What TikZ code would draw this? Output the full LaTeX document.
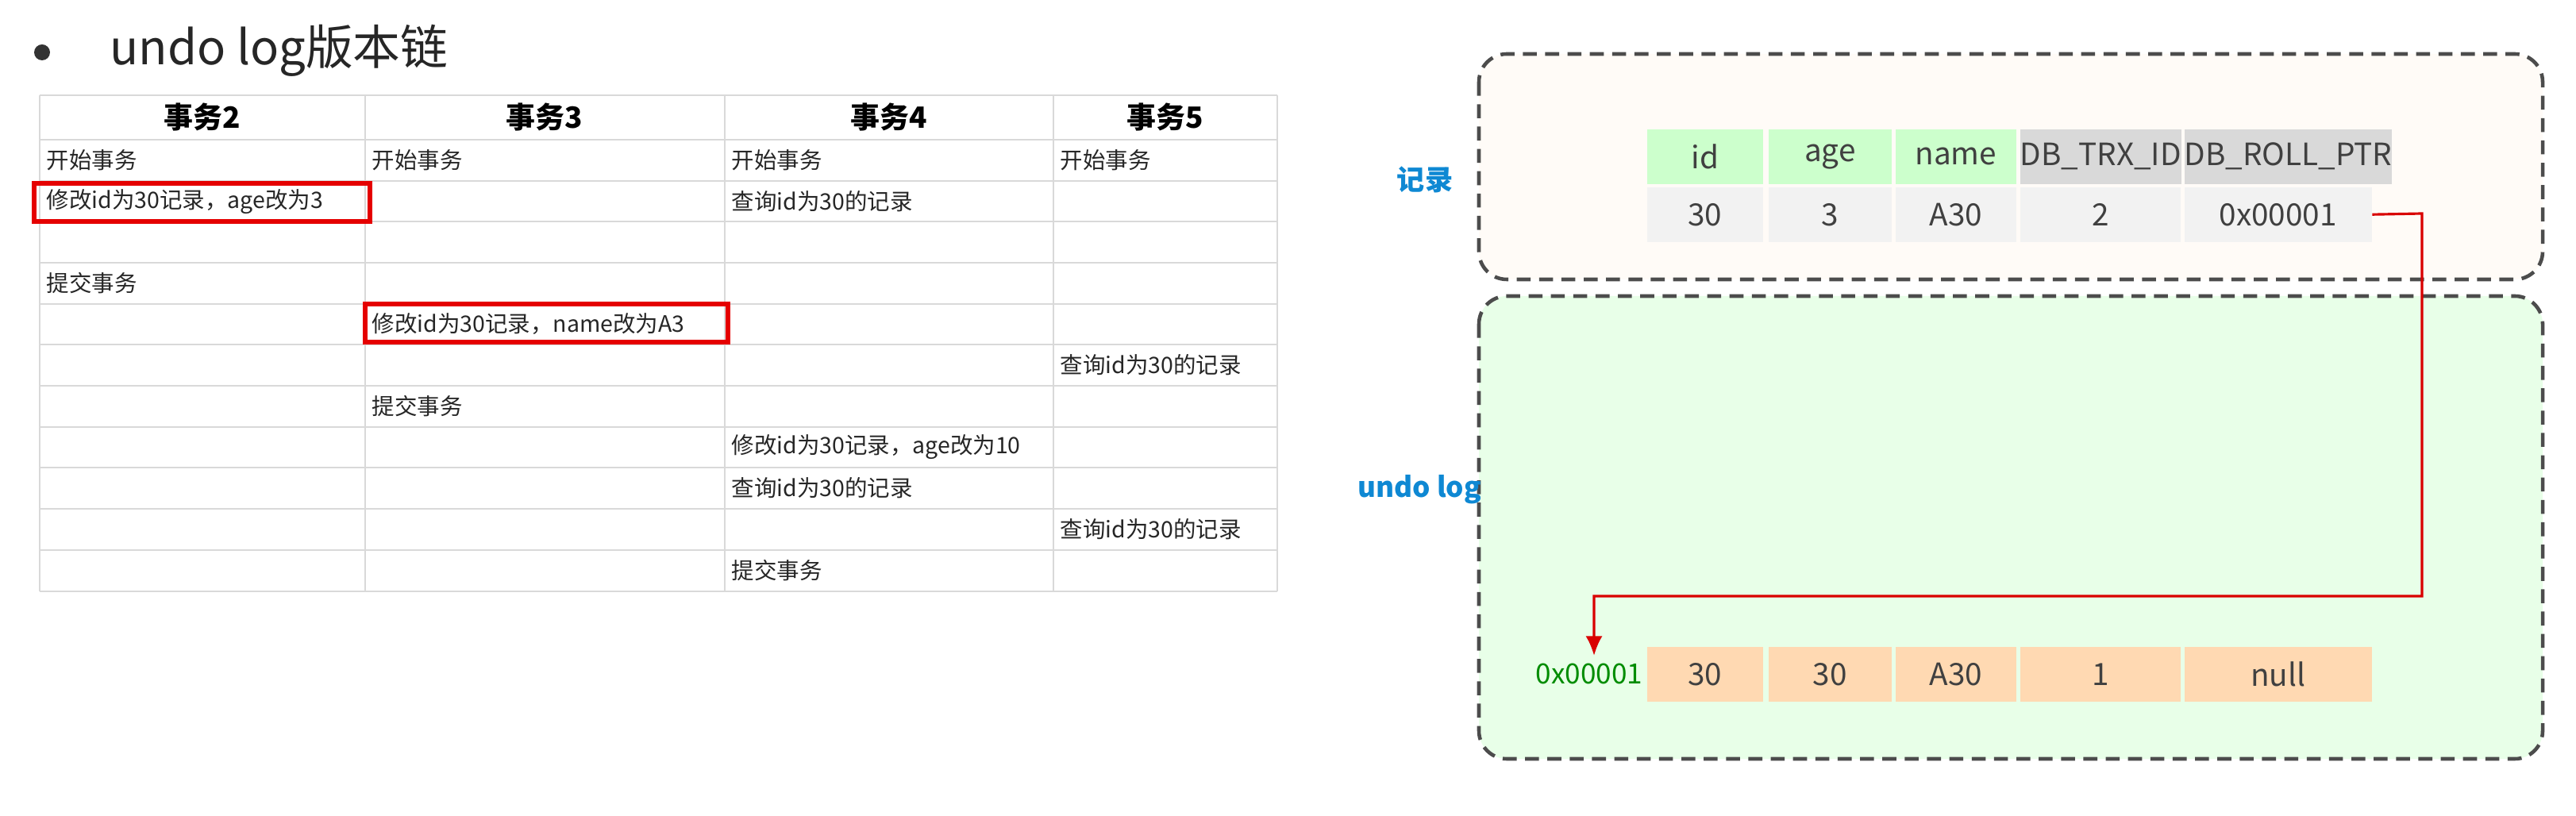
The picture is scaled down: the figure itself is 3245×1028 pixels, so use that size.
\documentclass[tikz,border=0pt]{standalone}
\usepackage{fontspec}
\usetikzlibrary{arrows.meta}
\setmainfont{Noto Sans CJK SC}
\begin{document}
\begin{tikzpicture}[x=0.01cm,y=-0.01cm,
  cell/.style={minimum width=#1*0.01cm, minimum height=0.69cm, anchor=north west, inner sep=0pt, font=\fontsize{11}{13}\selectfont, text=black!75},
  tb/.style={font=\fontsize{8.1}{10}\selectfont, anchor=west, inner sep=0pt, text=black!85},
  hd/.style={font=\bfseries\fontsize{10.5}{12}\selectfont, inner sep=0pt},
  redbox/.style={draw=red!90!black, line width=1.6pt},
  grp/.style={draw=black!70, dash pattern=on 5pt off 3pt, line width=1.3pt, rounded corners=10pt},
  lbl/.style={font=\bfseries\fontsize{10}{12}\selectfont, text=cyan!70!blue}]
\useasboundingbox (0,0) rectangle (3245,1028);
\fill[white] (0,0) rectangle (3245,1028);
% title
\fill[black!80] (53,66) circle (10);
\node[anchor=west, inner sep=0pt, font=\fontsize{17}{19}\selectfont, text=black!85] (title) at (138,64) {undo log版本链};
% table grid
\foreach \yy in {120,176,228,279,331,383,434,486,538,589,641,693,745}{\draw[black!15, line width=0.8pt] (50,\yy) -- (1609,\yy);}
\foreach \xx in {50,460,913,1327,1609}{\draw[black!15, line width=0.8pt] (\xx,120) -- (\xx,745);}
\node[hd] (h2) at (255,148) {事务2};
\node[hd] (h3) at (686,148) {事务3};
\node[hd] (h4) at (1120,148) {事务4};
\node[hd] (h5) at (1468,148) {事务5};
\node[tb] (a1) at (58,202) {开始事务};
\node[tb] (b1) at (468,202) {开始事务};
\node[tb] (c1) at (921,202) {开始事务};
\node[tb] (d1) at (1335,202) {开始事务};
\node[tb] (a2) at (58,254) {修改id为30记录，age改为3};
\node[tb] (c2) at (921,254) {查询id为30的记录};
\node[tb] (a4) at (58,357) {提交事务};
\node[tb] (b5) at (468,408) {修改id为30记录，name改为A3};
\node[tb] (d6) at (1335,460) {查询id为30的记录};
\node[tb] (b7) at (468,512) {提交事务};
\node[tb] (c8) at (921,563) {修改id为30记录，age改为10};
\node[tb] (c9) at (921,615) {查询id为30的记录};
\node[tb] (d10) at (1335,667) {查询id为30的记录};
\node[tb] (c11) at (921,719) {提交事务};
\draw[redbox] (43,231) rectangle (466,279);
\draw[redbox] (460,383) rectangle (917,431);
% right groups
\draw[grp, fill=orange!3] (1863,68) rectangle (3203,352);
\draw[grp, fill=green!9] (1863,373) rectangle (3203,956);
\node[lbl] (rec) at (1795,226) {记录};
\node[lbl] (ul) at (1788,617) {undo log};
% record table
\node[cell=146, fill=green!20] (hid) at (2074,162) {id};
\node[cell=155, fill=green!20] (hage) at (2227,162) {age};
\node[cell=152, fill=green!20] (hname) at (2387,162) {name};
\node[cell=202, fill=black!15] (htrx) at (2544,162) {DB\_TRX\_ID};
\node[cell=236, fill=black!15] (hptr) at (2751,162) {DB\_ROLL\_PTR};
\node[cell=146, fill=black!5] (rid) at (2074,235) {30};
\node[cell=155, fill=black!5] (rage) at (2227,235) {3};
\node[cell=152, fill=black!5] (rname) at (2387,235) {A30};
\node[cell=202, fill=black!5] (rtrx) at (2544,235) {2};
\node[cell=236, fill=black!5] (rptr) at (2751,235) {0x00001};
% undo row
\node[cell=146, fill=orange!30] (uid) at (2074,814) {30};
\node[cell=155, fill=orange!30] (uage) at (2227,814) {30};
\node[cell=152, fill=orange!30] (uname) at (2387,814) {A30};
\node[cell=202, fill=orange!30] (utrx) at (2544,814) {1};
\node[cell=236, fill=orange!30] (uptr) at (2751,814) {null};
\node[font=\fontsize{10}{12}\selectfont, text=green!55!black, inner sep=0pt] (addr) at (2002,849) {0x00001};
\coordinate (k1) at (3051,269);
\coordinate (k2) at (3051,751);
\coordinate (k3) at (2008,751);
\coordinate (k4) at (2008,826);
\draw[red!85!black, line width=0.9pt, -{Latex[length=7pt,width=6pt]}] (rptr.east) -- (k1) -- (k2) -- (k3) -- (k4);
\end{tikzpicture}
\end{document}
